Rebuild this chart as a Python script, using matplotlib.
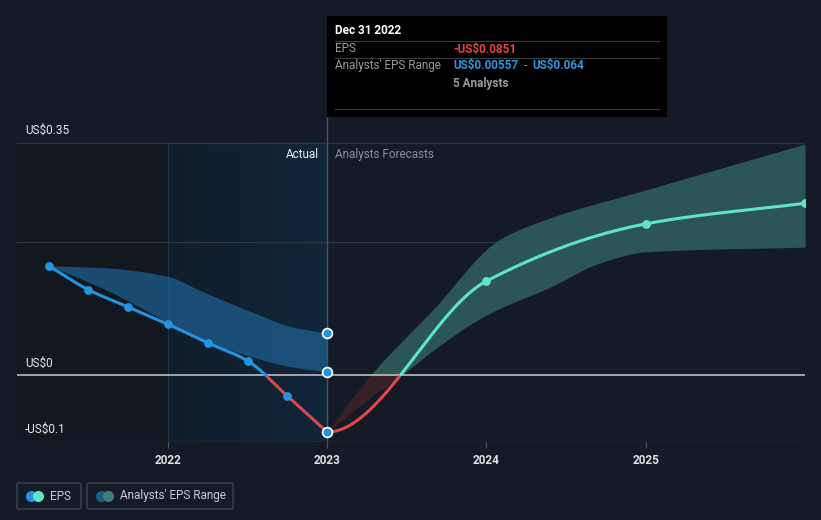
import matplotlib
matplotlib.use("Agg")
import matplotlib.pyplot as plt
import numpy as np
from matplotlib.patches import Rectangle, FancyBboxPatch
from matplotlib.colors import LinearSegmentedColormap

plt.rcParams['font.family'] = ['Roboto', 'DejaVu Sans']

# 实际 EPS（按季度的 TTM），年份用小数表示
hist_x = [2021.25, 2021.5, 2021.75, 2022.0, 2022.25, 2022.5, 2022.75, 2023.0]
hist_eps = [0.165, 0.129, 0.103, 0.077, 0.049, 0.022, -0.031, -0.0851]

# 过去的分析师区间
band_hist_x = [2021.25, 2021.6, 2022.0, 2022.2, 2022.5, 2022.8, 2023.0]
band_hist_hi = [0.165, 0.162, 0.149, 0.128, 0.098, 0.072, 0.064]
band_hist_lo = [0.165, 0.130, 0.080, 0.056, 0.030, 0.012, 0.00557]

# 分析师预测
fc_x = [2023.0, 2024.0, 2025.0, 2026.0]
fc_eps = [-0.0851, 0.142, 0.228, 0.259]
band_hi_x = [2023.0, 2023.27, 2023.66, 2024.08, 2024.4, 2025.0, 2026.0]
band_fc_hi = [-0.0851, 0.0, 0.098, 0.204, 0.237, 0.279, 0.348]
band_lo_x = [2023.0, 2023.276, 2023.465, 2023.666, 2024.0, 2024.4, 2024.71, 2025.0, 2026.0]
band_fc_lo = [-0.0851, -0.032, 0.0, 0.038, 0.091, 0.133, 0.169, 0.186, 0.193]

yticks = [-0.1, 0, 0.35]
ytick_labels = ['-US$0.1', 'US$0', 'US$0.35']
xticks = [2022, 2023, 2024, 2025]

BG = '#151b26'
BLUE = '#2394df'
TEAL = '#5fe3c9'
RED = '#e04848'


def pchip(x, y, n=300, m0=None):
    # 单调三次插值，只用来画平滑曲线
    x = np.asarray(x, float)
    y = np.asarray(y, float)
    h = np.diff(x)
    d = np.diff(y) / h
    m = np.zeros_like(y)
    for k in range(1, len(x) - 1):
        if d[k - 1] * d[k] > 0:
            w1 = 2 * h[k] + h[k - 1]
            w2 = h[k] + 2 * h[k - 1]
            m[k] = (w1 + w2) / (w1 / d[k - 1] + w2 / d[k])
    m[0] = d[0] if m0 is None else m0
    m[-1] = d[-1]
    xs = np.linspace(x[0], x[-1], n)
    idx = np.clip(np.searchsorted(x, xs) - 1, 0, len(x) - 2)
    t = (xs - x[idx]) / h[idx]
    h00 = 2 * t**3 - 3 * t**2 + 1
    h10 = t**3 - 2 * t**2 + t
    h01 = -2 * t**3 + 3 * t**2
    h11 = t**3 - t**2
    ys = h00 * y[idx] + h10 * h[idx] * m[idx] + h01 * y[idx + 1] + h11 * h[idx] * m[idx + 1]
    return xs, ys


def signed_line(ax, xs, ys, pos_color, neg_color):
    pos = np.ma.masked_where(ys < 0, ys)
    neg = np.ma.masked_where(ys > 0, ys)
    ax.plot(xs, neg, color=neg_color, lw=2.2, zorder=5, solid_capstyle='round')
    ax.plot(xs, pos, color=pos_color, lw=2.2, zorder=5, solid_capstyle='round')


fig = plt.figure(figsize=(8.21, 5.2), dpi=100)
fig.patch.set_facecolor(BG)

ax = fig.add_axes([17 / 821, 78 / 520, 788 / 821, 325 / 520])
ax.set_facecolor(BG)
x0, x1 = 2021.052, 2026.0
y0, y1 = -0.1, 0.3887
ax.set_xlim(x0, x1)
ax.set_ylim(y0, y1)
for s in ax.spines.values():
    s.set_visible(False)
ax.set_yticks([])
ax.set_xticks(xticks)
ax.set_xticklabels([str(v) for v in xticks], color='#e0e0e0', fontsize=8.5, fontweight='bold')
ax.tick_params(axis='x', length=4, color='#4a5260', pad=5)

# 过去区域的底色
ax.fill_between([x0, 2022.0], y0, 0.35, color='#121720', zorder=0, lw=0)
grad = np.linspace(0, 1, 256).reshape(1, -1)
cm = LinearSegmentedColormap.from_list('g', ['#111d2b', '#11263a'])
ax.imshow(grad, extent=[2022.0, 2023.0, y0, 0.35], aspect='auto', cmap=cm, zorder=0)
ax.plot([2022.0, 2022.0], [y0, 0.35], color='#1a344c', lw=0.8, zorder=1)

# 网格线
for g in [0.2, 0.35]:
    ax.axhline(g, color='#2f3642', lw=0.9, zorder=1)
ax.axhline(-0.1, color='#3a414d', lw=1.0, zorder=1)
ax.axhline(0, color='#b8bcc2', lw=1.2, zorder=3)
ax.axvline(2023.0, color='#3a5570', lw=1.0, zorder=2)

# 过去的区间
bx, bhi = pchip(band_hist_x, band_hist_hi)
_, blo = pchip(band_hist_x, band_hist_lo)
ax.fill_between(bx, blo, bhi, color='#1e5e8f', alpha=0.75, lw=0, zorder=2)

# 预测区间（零以下偏红）
fx = np.linspace(2023.0, 2026.0, 400)
fhi = np.interp(fx, *pchip(band_hi_x, band_fc_hi, n=600))
flo = np.interp(fx, *pchip(band_lo_x, band_fc_lo, n=600))
ax.fill_between(fx, np.maximum(flo, 0), np.maximum(fhi, 0), color='#2e5a58', alpha=0.95, lw=0, zorder=2)
ax.fill_between(fx, np.minimum(flo, 0), np.minimum(fhi, 0), color='#3a2228', alpha=0.95, lw=0, zorder=2)

# EPS 线
hx, hy = pchip(hist_x, hist_eps)
signed_line(ax, hx, hy, BLUE, '#d9464c')
px, py = pchip(fc_x, fc_eps, m0=0.0)
signed_line(ax, px, py, TEAL, RED)

ax.scatter(hist_x[:-1], hist_eps[:-1], s=40, color=BLUE, zorder=6, lw=0)
ax.scatter(fc_x[1:], fc_eps[1:], s=40, color=TEAL, zorder=6, lw=0)
ax.scatter([2023.0] * 3, [hist_eps[-1], band_hist_hi[-1], band_hist_lo[-1]],
           s=50, color=BLUE, edgecolor='white', lw=1.2, zorder=7)

# y 轴标签
for v, lab in zip(yticks, ytick_labels):
    ax.text(x0 + 0.05, v + 0.009, lab, color='#e8e8e8', fontsize=8.5, va='bottom', ha='left')

ax.text(2022.95, 0.333, 'Actual', color='#f0f0f0', fontsize=8.5, ha='right', va='center')
ax.text(2023.05, 0.333, 'Analysts Forecasts', color='#8a9099', fontsize=8.5, ha='left', va='center')

# 提示框
W, H = 821, 520
tip = Rectangle((327 / W, 1 - 117 / H), 340 / W, 101 / H, transform=fig.transFigure,
                facecolor='#000000', edgecolor='none', zorder=10)
fig.patches.append(tip)
for yy in [41, 58, 109]:
    fig.add_artist(plt.Line2D([335 / W, 659 / W], [1 - yy / H] * 2, color='#3c3c3c', lw=0.8, zorder=11))
fig.text(335 / W, 1 - 31 / H, 'Dec 31 2022', color='white', fontsize=8.5, fontweight='bold', va='center', zorder=12)
fig.text(335 / W, 1 - 49 / H, 'EPS', color='#9a9a9a', fontsize=8.5, va='center', zorder=12)
fig.text(453 / W, 1 - 49 / H, '-US$0.0851', color='#e34444', fontsize=8.5, fontweight='bold', va='center', zorder=12)
fig.text(335 / W, 1 - 66 / H, "Analysts' EPS Range", color='#9a9a9a', fontsize=8.5, va='center', zorder=12)
fig.text(453 / W, 1 - 66 / H, 'US$0.00557', color='#2a97e0', fontsize=8.5, fontweight='bold', va='center', zorder=12)
fig.text(524 / W, 1 - 66 / H, '-', color='#9a9a9a', fontsize=8.5, va='center', zorder=12)
fig.text(532 / W, 1 - 66 / H, 'US$0.064', color='#2a97e0', fontsize=8.5, fontweight='bold', va='center', zorder=12)
fig.text(453 / W, 1 - 83 / H, '5 Analysts', color='#9a9a9a', fontsize=8.5, fontweight='bold', va='center', zorder=12)


# 图例
def legend_box(xl, w, c1, c2, label):
    box = FancyBboxPatch((xl / W, 1 - 509 / H), w / W, 26 / H, boxstyle='round,pad=0,rounding_size=0.003',
                         transform=fig.transFigure, facecolor='none', edgecolor='#3c4350', lw=1)
    fig.patches.append(box)
    fig.add_artist(plt.Line2D([(xl + 14) / W], [1 - 496 / H], marker='o', markersize=7,
                              color=c1, lw=0, transform=fig.transFigure))
    fig.add_artist(plt.Line2D([(xl + 21) / W], [1 - 496 / H], marker='o', markersize=7,
                              color=c2, lw=0, transform=fig.transFigure))
    fig.text((xl + 33) / W, 1 - 496 / H, label, color='#c8ccd2', fontsize=8.5, va='center')


legend_box(17, 64, BLUE, TEAL, 'EPS')
legend_box(87, 146, '#1f5a85', '#3d7f7a', "Analysts' EPS Range")

fig.savefig('out.png', dpi=100, facecolor=BG)
